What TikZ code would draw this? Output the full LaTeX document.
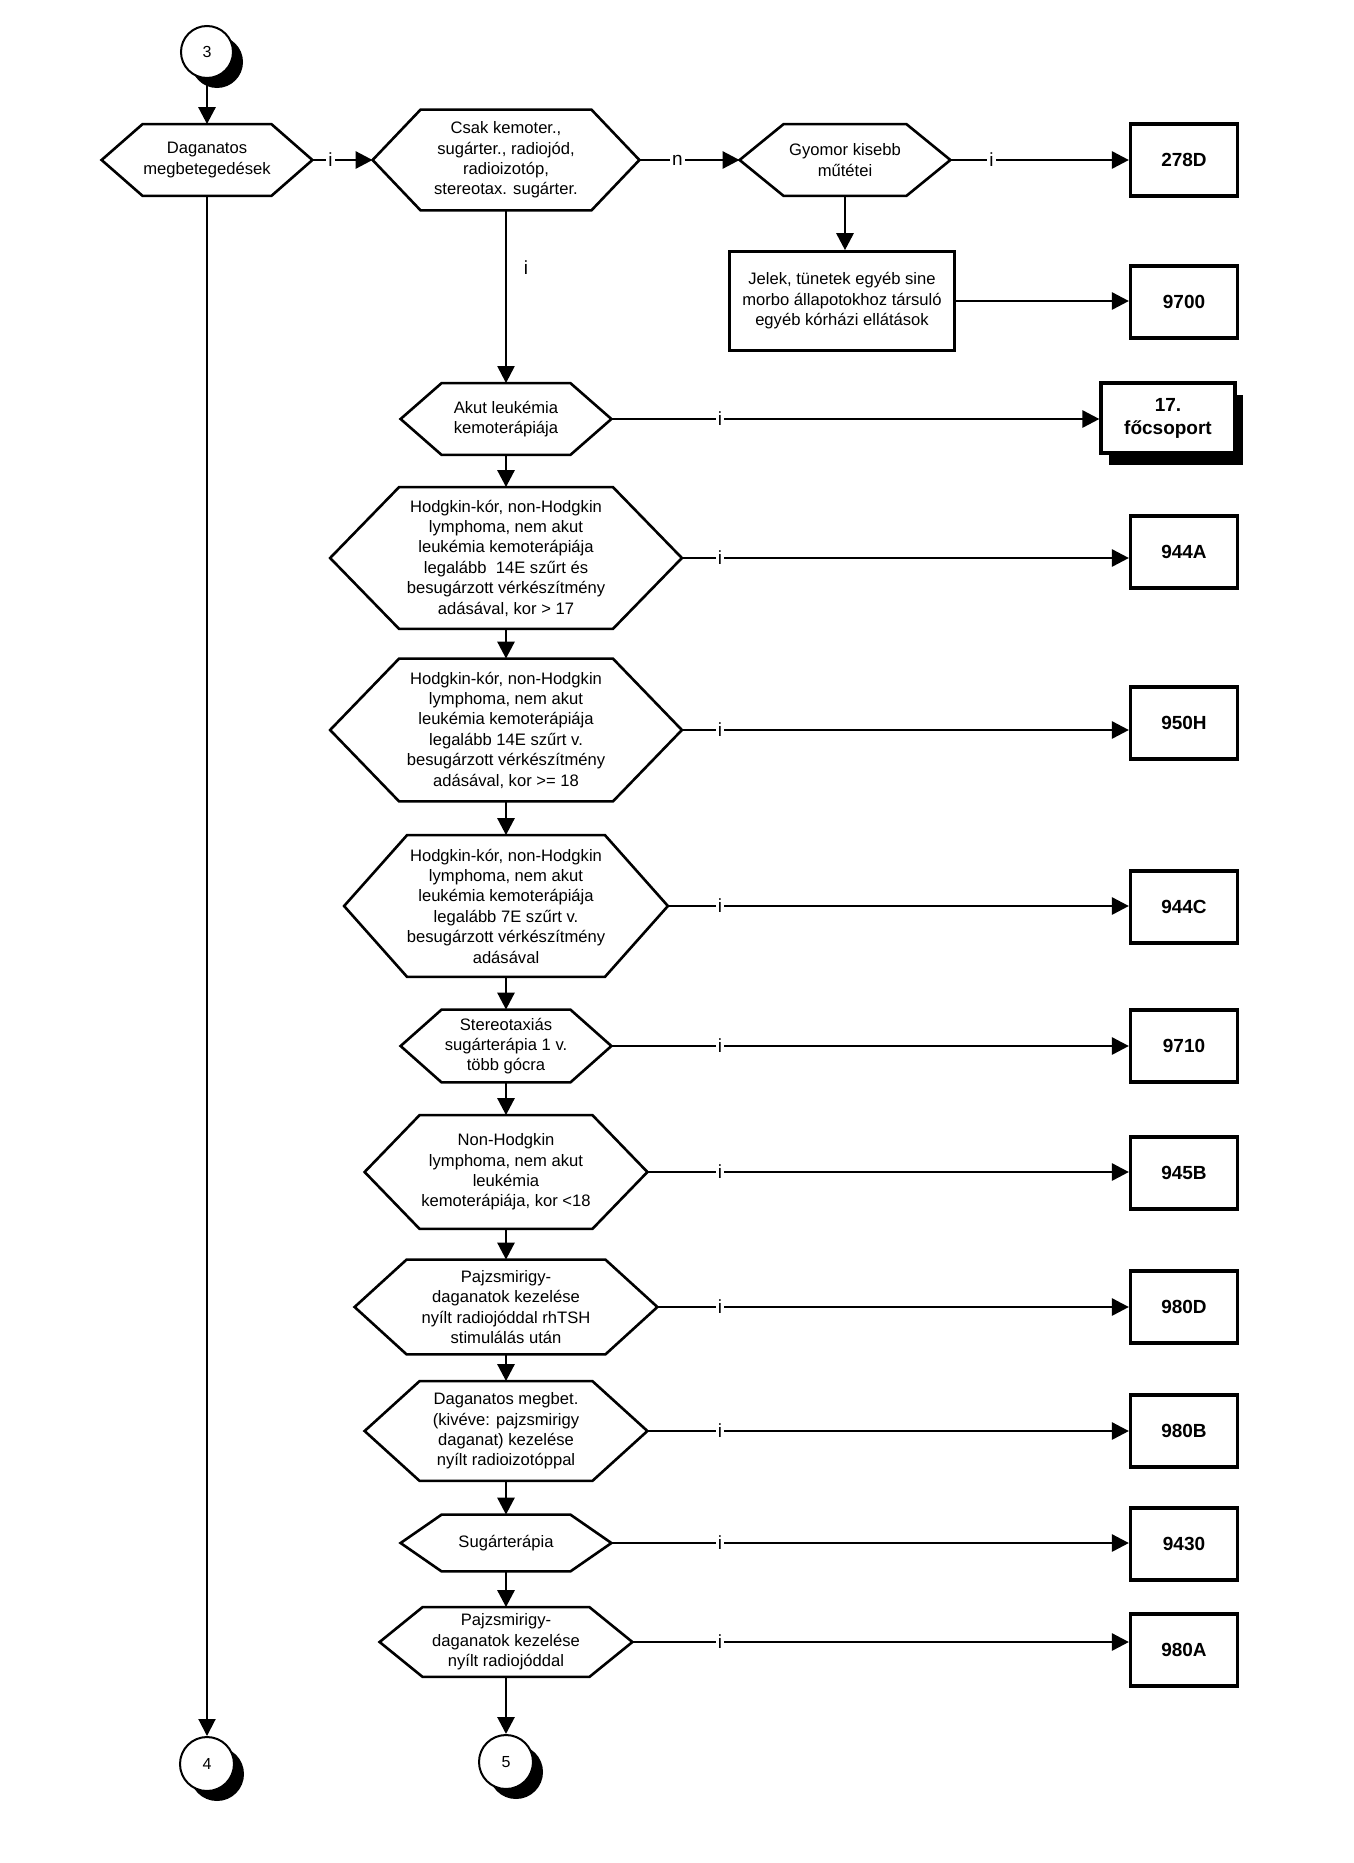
\documentclass[tikz,border=0pt]{standalone}
\usepackage{fontspec}
\setmainfont{Liberation Sans}
\usetikzlibrary{arrows.meta,calc,shadows}

\tikzset{
  x=0.5pt, y=-0.5pt,
  txt/.style={font=\fontsize{8.3}{10.2}\selectfont, align=center, inner sep=0pt},
  hexbox/.style={txt, draw=none, shape=rectangle},
  hexline/.style={draw=black, line width=1.3pt, line join=miter},
  codebox/.style={draw=black, line width=1.6pt, fill=white, font=\fontsize{9.5}{11.5}\selectfont\bfseries, align=center, minimum width=53.5pt, minimum height=36pt, inner sep=0pt},
  textbox/.style={txt, draw=black, line width=1.3pt, fill=white},
  arr/.style={line width=1.4pt, -{Triangle[length=8.5pt,width=8.5pt]}},
  thinarr/.style={line width=1pt, -{Triangle[length=8.5pt,width=8.5pt]}},
  conn/.style={circle, draw=black, line width=1pt, fill=white, minimum size=26pt, inner sep=0pt, font=\fontsize{8}{10}\selectfont, drop shadow={shadow xshift=5pt, shadow yshift=-5pt, opacity=1, fill=black}},
  lbl/.style={font=\fontsize{9.5}{12}\selectfont, fill=white, inner sep=1pt},
  lblplain/.style={font=\fontsize{9.5}{12}\selectfont, inner sep=0pt},
}

% name, x, y, width(px), height(px), inset(px), text
\newcommand\hexnode[7]{%
  \node[hexbox, minimum width=#4*0.5pt, minimum height=#5*0.5pt] (#1) at (#2,#3) {#7};
  \draw[hexline] (#1.west) -- ($(#1.north west)+(#6,0)$) -- ($(#1.north east)+(-#6,0)$) -- (#1.east) -- ($(#1.south east)+(-#6,0)$) -- ($(#1.south west)+(#6,0)$) -- cycle;
}
\newcommand\rowarrow[2]{%
  \draw[arr] (#1.east) -- (#1.east -| #2.west) node[lbl] at (#1.east -| lx) {i};
}

\begin{document}
\begin{tikzpicture}
\fill[white] (0,0) rectangle (1354,1863);
\useasboundingbox (0,0) rectangle (1354,1863);
\coordinate (lx) at (720,0);

% connectors (circles)
\node[conn] (c3) at (207,52) {3};
\node[conn, minimum size=27pt] (c4) at (207,1764) {4};
\node[conn, minimum size=27pt] (c5) at (506,1762) {5};

% hexagons
\hexnode{dag}{207}{160}{210}{71}{41}{Daganatos\\megbetegedések}
\hexnode{csak}{506}{160}{266}{100}{48}{Csak kemoter.,\\sugárter., radiojód,\\radioizotóp,\\stereotax. sugárter.}
\hexnode{gyo}{845}{160}{210}{71}{44}{Gyomor kisebb\\műtétei}
\hexnode{akut}{506}{419}{210}{71}{41}{Akut leukémia\\kemoterápiája}
\hexnode{hA}{506}{558}{351}{141}{69}{Hodgkin-kór, non-Hodgkin\\lymphoma, nem akut\\leukémia kemoterápiája\\legalább\ \ 14E szűrt és\\besugárzott vérkészítmény\\adásával, kor > 17}
\hexnode{hH}{506}{730}{351}{142}{69}{Hodgkin-kór, non-Hodgkin\\lymphoma, nem akut\\leukémia kemoterápiája\\legalább 14E szűrt v.\\besugárzott vérkészítmény\\adásával, kor >= 18}
\hexnode{hC}{506}{906}{323}{141}{63}{Hodgkin-kór, non-Hodgkin\\lymphoma, nem akut\\leukémia kemoterápiája\\legalább 7E szűrt v.\\besugárzott vérkészítmény\\adásával}
\hexnode{hS}{506}{1046}{210}{72}{41}{Stereotaxiás\\sugárterápia 1 v.\\több gócra}
\hexnode{hN}{506}{1172}{282}{113}{55}{Non-Hodgkin\\lymphoma, nem akut\\leukémia\\kemoterápiája, kor <18}
\hexnode{hP}{506}{1307}{302}{94}{52}{Pajzsmirigy-\\daganatok kezelése\\nyílt radiojóddal rhTSH\\stimulálás után}
\hexnode{hD}{506}{1431}{282}{99}{55}{Daganatos megbet.\\(kivéve: pajzsmirigy\\daganat) kezelése\\nyílt radioizotóppal}
\hexnode{hSu}{506}{1543}{210}{56}{41}{Sugárterápia}
\hexnode{hP2}{506}{1642}{252}{69}{43}{Pajzsmirigy-\\daganatok kezelése\\nyílt radiojóddal}

% text box
\node[textbox, minimum width=112.5pt, minimum height=49.5pt] (jelek) at (842,301) {Jelek, tünetek egyéb sine\\morbo állapotokhoz társuló\\egyéb kórházi ellátások};

% code boxes
\node[codebox] (b278) at (1184,160) {278D};
\node[codebox] (b9700) at (1184,302) {9700};
\node[codebox, minimum width=67pt, minimum height=35pt, drop shadow={shadow xshift=4pt, shadow yshift=-6pt, opacity=1, fill=black}] (b17) at (1168,418) {17.\\főcsoport};
\node[codebox] (b944A) at (1184,552) {944A};
\node[codebox] (b950H) at (1184,723) {950H};
\node[codebox] (b944C) at (1184,907) {944C};
\node[codebox] (b9710) at (1184,1046) {9710};
\node[codebox] (b945B) at (1184,1173) {945B};
\node[codebox] (b980D) at (1184,1307) {980D};
\node[codebox] (b980B) at (1184,1431) {980B};
\node[codebox] (b9430) at (1184,1544) {9430};
\node[codebox] (b980A) at (1184,1650) {980A};

% arrows
\draw[arr] (c3.south) -- (dag.north);
\draw[thinarr] (dag.south) -- (c4.north);
\draw[arr] (dag.east) -- node[lbl, pos=0.3] {i} (csak.west);
\draw[arr] (csak.east) -- node[lbl, pos=0.38] {n} (gyo.west);
\draw[arr] (gyo.east) -- node[lbl, pos=0.23] {i} (b278.west);
\draw[arr] (gyo.south) -- (gyo.south |- jelek.north);
\draw[arr] (jelek.east) -- (jelek.east -| b9700.west);
\draw[arr, line width=1.1pt] (csak.south) -- node[lblplain, pos=0.33, xshift=10pt] {i} (akut.north);

\rowarrow{akut}{b17}
\rowarrow{hA}{b944A}
\rowarrow{hH}{b950H}
\rowarrow{hC}{b944C}
\rowarrow{hS}{b9710}
\rowarrow{hN}{b945B}
\rowarrow{hP}{b980D}
\rowarrow{hD}{b980B}
\rowarrow{hSu}{b9430}
\rowarrow{hP2}{b980A}

\draw[arr] (akut.south) -- (hA.north);
\draw[arr] (hA.south) -- (hH.north);
\draw[arr] (hH.south) -- (hC.north);
\draw[arr] (hC.south) -- (hS.north);
\draw[arr] (hS.south) -- (hN.north);
\draw[arr] (hN.south) -- (hP.north);
\draw[arr] (hP.south) -- (hD.north);
\draw[arr] (hD.south) -- (hSu.north);
\draw[arr] (hSu.south) -- (hP2.north);
\draw[arr] (hP2.south) -- (c5.north);
\end{tikzpicture}
\end{document}
